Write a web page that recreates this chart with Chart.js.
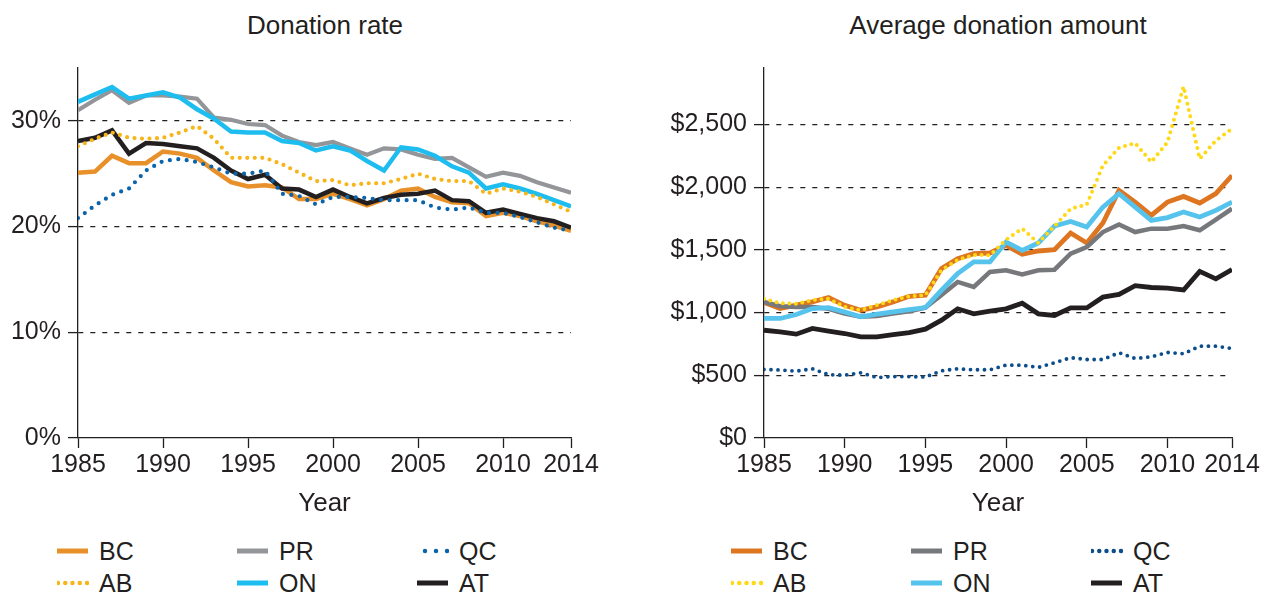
<!DOCTYPE html>
<html lang="en">
<head>
<meta charset="utf-8">
<title>Donation rate and average donation amount, 1985–2014</title>
<script src="https://cdn.jsdelivr.net/npm/chart.js@4.4.1/dist/chart.umd.min.js"></script>
<style>
  html, body { margin: 0; padding: 0; background: #fff; }
  body {
    width: 1270px; height: 593px; position: relative; overflow: hidden;
    font-family: "Liberation Sans", Arial, Helvetica, sans-serif; color: #231f20;
  }
  canvas { position: absolute; top: 0; }
  .panel-title {
    position: absolute; top: 10px; font-size: 26px; line-height: 30px;
    white-space: nowrap; transform: translateX(-50%);
  }
  .legend {
    position: absolute; top: 535px;
    display: grid; grid-template-columns: repeat(3, 180px); grid-auto-rows: 32px;
  }
  .legend-item { display: flex; align-items: center; font-size: 25px; line-height: 30px; }
  .legend-item svg { flex: none; margin-right: 10px; }
</style>
</head>
<body>

<div class="panel-title" style="left:325px">Donation rate</div>
<div class="panel-title" style="left:998px">Average donation amount</div>

<canvas id="rateChart" width="620" height="520" style="left:0"></canvas>
<canvas id="amountChart" width="630" height="520" style="left:640px"></canvas>

<div class="legend" id="rateLegend" style="left:57px"></div>
<div class="legend" id="amountLegend" style="left:731px"></div>

<script>
'use strict';

/* ── Data ───────────────────────────────────────────────────────────────── */
const years = [1985, 1986, 1987, 1988, 1989, 1990, 1991, 1992, 1993, 1994,
               1995, 1996, 1997, 1998, 1999, 2000, 2001, 2002, 2003, 2004,
               2005, 2006, 2007, 2008, 2009, 2010, 2011, 2012, 2013, 2014];
const yearTicks   = [1985, 1990, 1995, 2000, 2005, 2010, 2014];
const rateTicks   = [0, 10, 20, 30];
const amountTicks = [0, 500, 1000, 1500, 2000, 2500];

// Donation rate, % of population
const rateBC = [25.1, 25.2, 26.7, 26.0, 26.0, 27.1, 26.9, 26.5, 25.3, 24.2,
                23.8, 23.9, 23.7, 22.6, 22.6, 23.1, 22.6, 22.0, 22.6, 23.4,
                23.6, 22.8, 22.3, 22.2, 21.0, 21.3, 21.0, 20.5, 20.1, 19.6];
const rateAB = [27.6, 28.3, 28.9, 28.4, 28.3, 28.4, 28.9, 29.5, 28.3, 26.5,
                26.5, 26.5, 25.9, 25.1, 24.3, 24.4, 23.9, 24.1, 24.1, 24.5,
                25.0, 24.5, 24.3, 24.3, 23.1, 23.6, 23.3, 22.8, 22.1, 21.4];
const ratePR = [31.0, 32.0, 32.9, 31.7, 32.4, 32.4, 32.3, 32.1, 30.3, 30.1,
                29.7, 29.6, 28.6, 28.0, 27.7, 28.0, 27.4, 26.8, 27.4, 27.3,
                26.8, 26.4, 26.5, 25.6, 24.7, 25.1, 24.8, 24.2, 23.7, 23.2];
const rateON = [31.8, 32.5, 33.2, 32.1, 32.4, 32.7, 32.2, 31.1, 30.2, 29.0,
                28.9, 28.9, 28.1, 27.9, 27.2, 27.6, 27.2, 26.2, 25.3, 27.5,
                27.3, 26.7, 25.7, 25.1, 23.6, 24.0, 23.6, 23.1, 22.5, 21.9];
const rateQC = [20.8, 22.0, 23.0, 23.6, 25.3, 26.2, 26.4, 26.1, 25.6, 25.0,
                25.0, 25.3, 23.1, 22.9, 22.1, 22.8, 22.8, 22.7, 22.5, 22.5,
                22.5, 21.8, 21.6, 21.8, 21.3, 21.3, 20.9, 20.4, 19.9, 19.6];
const rateAT = [28.1, 28.4, 29.1, 26.9, 27.9, 27.8, 27.6, 27.4, 26.5, 25.3,
                24.5, 24.9, 23.6, 23.5, 22.8, 23.5, 22.8, 22.2, 22.7, 23.0,
                23.1, 23.4, 22.5, 22.4, 21.3, 21.6, 21.2, 20.8, 20.5, 19.9];

// Average donation amount, $
const amountBC = [1080, 1032, 1060, 1085, 1120, 1058, 1019, 1045, 1085, 1130,
                  1138, 1351, 1430, 1470, 1475, 1536, 1465, 1491, 1502, 1634,
                  1555, 1714, 1974, 1881, 1775, 1881, 1926, 1873, 1948, 2093];
const amountAB = [1110, 1075, 1070, 1100, 1110, 1045, 1019, 1060, 1100, 1130,
                  1138, 1340, 1420, 1460, 1457, 1582, 1669, 1555, 1690, 1828,
                  1862, 2173, 2314, 2351, 2200, 2359, 2802, 2226, 2372, 2465];
const amountPR = [1085, 1051, 1045, 1045, 1030, 992, 966, 972, 992, 1011,
                  1040, 1140, 1244, 1204, 1324, 1337, 1305, 1337, 1342, 1470,
                  1523, 1642, 1703, 1642, 1669, 1669, 1690, 1656, 1741, 1828];
const amountON = [953, 953, 985, 1032, 1040, 1005, 966, 987, 1005, 1024,
                  1040, 1178, 1311, 1404, 1404, 1563, 1496, 1555, 1690, 1727,
                  1682, 1841, 1948, 1841, 1735, 1757, 1802, 1762, 1815, 1881];
const amountQC = [547, 542, 533, 552, 505, 501, 520, 482, 490, 490,
                  486, 536, 552, 544, 544, 581, 581, 563, 600, 640,
                  626, 626, 680, 634, 647, 682, 672, 732, 732, 714];
const amountAT = [859, 846, 828, 873, 852, 833, 807, 807, 825, 840,
                  868, 940, 1030, 990, 1011, 1030, 1075, 990, 977, 1037,
                  1037, 1123, 1145, 1214, 1200, 1195, 1180, 1328, 1269, 1343];

/* ── Styles ─────────────────────────────────────────────────────────────── */
const INK = '#231f20';
const FONT = '"Liberation Sans", Arial, Helvetica, sans-serif';

Chart.defaults.font.family = FONT;
Chart.defaults.color = INK;

// legend order is row-major: BC PR QC / AB ON AT
const rateSeries = [
  { label: 'BC', data: rateBC, color: '#e8912a', width: 4.5, order: 6 },
  { label: 'PR', data: ratePR, color: '#939598', width: 4.2, order: 5 },
  { label: 'QC', data: rateQC, color: '#0a64ac', width: 4.2, order: 2, gap: 8.5, dots: 3 },
  { label: 'AB', data: rateAB, color: '#f8b51a', width: 4.2, order: 1, gap: 7.5, dots: 5 },
  { label: 'ON', data: rateON, color: '#1ebdf0', width: 4.5, order: 4 },
  { label: 'AT', data: rateAT, color: INK,       width: 4.5, order: 3 }
];
const amountSeries = [
  { label: 'BC', data: amountBC, color: '#dd7521', width: 4.8, order: 6 },
  { label: 'PR', data: amountPR, color: '#77787b', width: 4.5, order: 5 },
  { label: 'QC', data: amountQC, color: '#0c4e8c', width: 3.8, order: 2, gap: 7, dots: 5 },
  { label: 'AB', data: amountAB, color: '#ffd816', width: 4.0, order: 1, gap: 6.5, dots: 5 },
  { label: 'ON', data: amountON, color: '#56c3ec', width: 4.8, order: 4 },
  { label: 'AT', data: amountAT, color: INK,       width: 4.8, order: 3 }
];

/* ── Chart builder ──────────────────────────────────────────────────────── */
function buildChart(canvasId, series, opts) {
  const datasets = series.map(s => ({
    label: s.label,
    data: years.map((yr, i) => ({ x: yr, y: s.data[i] })),
    borderColor: s.color,
    borderWidth: s.width,
    borderDash: s.gap ? [0, s.gap] : [],
    borderCapStyle: s.gap ? 'round' : 'butt',
    borderJoinStyle: s.gap ? 'round' : 'miter',
    pointRadius: 0,
    tension: 0,
    fill: false,
    order: s.order
  }));

  return new Chart(document.getElementById(canvasId), {
    type: 'line',
    data: { datasets },
    options: {
      responsive: false,
      animation: false,
      layout: { padding: { top: 68, right: opts.padRight, bottom: 0, left: 0 } },
      plugins: { legend: { display: false }, title: { display: false }, tooltip: { enabled: false } },
      scales: {
        x: {
          type: 'linear',
          min: 1985,
          max: 2014,
          afterBuildTicks: s => { s.ticks = yearTicks.map(v => ({ value: v })); },
          afterFit: s => { s.height = 82; },
          ticks: {
            autoSkip: false, maxRotation: 0, padding: 2,
            font: { size: 25 }, color: INK,
            callback: v => String(v)
          },
          grid: {
            drawOnChartArea: false, drawTicks: true, tickLength: 10,
            tickColor: INK, tickWidth: 1.3
          },
          border: { color: INK, width: 1.3 },
          title: {
            display: true, text: 'Year', color: INK,
            font: { size: 26 }, padding: { top: 0, bottom: 1 }
          }
        },
        y: {
          min: 0,
          max: opts.yMax,
          afterBuildTicks: s => { s.ticks = opts.yTicks.map(v => ({ value: v })); },
          afterFit: s => { s.width = opts.axisWidth; },
          ticks: { padding: 7, font: { size: 25 }, color: INK, callback: opts.fmt },
          grid: {
            color: c => (c.tick && c.tick.value === 0) ? 'rgba(0,0,0,0)' : INK,
            lineWidth: 1.2,
            drawTicks: true, tickLength: 10, tickColor: INK, tickWidth: 1.3, tickBorderDash: []
          },
          border: { color: INK, width: 1.3, dash: [5, 7] }
        }
      }
    }
  });
}

/* ── Legend (HTML) ──────────────────────────────────────────────────────── */
function buildLegend(containerId, series) {
  const box = document.getElementById(containerId);
  const NS = 'http://www.w3.org/2000/svg';
  series.forEach(s => {
    const item = document.createElement('div');
    item.className = 'legend-item';

    const svg = document.createElementNS(NS, 'svg');
    svg.setAttribute('width', '32');
    svg.setAttribute('height', '10');
    const line = document.createElementNS(NS, 'line');
    line.setAttribute('y1', '5');
    line.setAttribute('y2', '5');
    line.setAttribute('stroke', s.color);
    if (s.gap) {
      // evenly spaced round dots, right-aligned in the swatch box
      const step = s.dots === 3 ? 11 : 7.25;
      const end = 30;
      line.setAttribute('x1', String(end - step * (s.dots - 1)));
      line.setAttribute('x2', String(end + 0.01));
      line.setAttribute('stroke-width', '4.5');
      line.setAttribute('stroke-linecap', 'round');
      line.setAttribute('stroke-dasharray', '0 ' + step);
    } else {
      line.setAttribute('x1', '0');
      line.setAttribute('x2', '31');
      line.setAttribute('stroke-width', '5');
    }
    svg.appendChild(line);

    const text = document.createElement('span');
    text.textContent = s.label;

    item.appendChild(svg);
    item.appendChild(text);
    box.appendChild(item);
  });
}

/* ── Init ───────────────────────────────────────────────────────────────── */
buildChart('rateChart', rateSeries, {
  yMax: 35,
  yTicks: rateTicks,
  axisWidth: 78,
  padRight: 49,
  fmt: v => v + '%'
});

buildChart('amountChart', amountSeries, {
  yMax: 2950,
  yTicks: amountTicks,
  axisWidth: 124,
  padRight: 38,
  fmt: v => '$' + Number(v).toLocaleString('en-US')
});

buildLegend('rateLegend', rateSeries);
buildLegend('amountLegend', amountSeries);
</script>
</body>
</html>
